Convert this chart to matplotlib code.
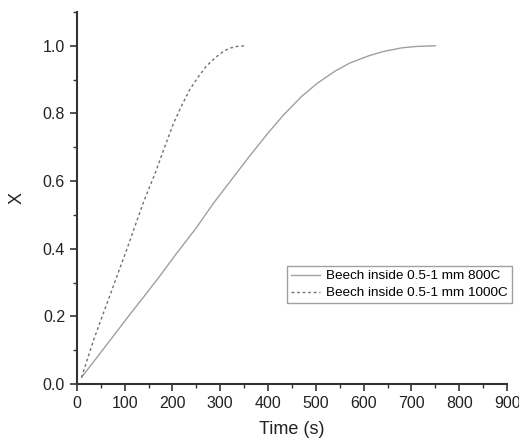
import numpy as np
import matplotlib.pyplot as plt
from matplotlib.ticker import MultipleLocator

plt.rcParams['font.family'] = ['Liberation Sans', 'DejaVu Sans']

# valores
t_800 = [10, 40, 70, 105, 140, 175, 209, 250, 286, 325, 362, 400, 432, 470, 502, 540, 571, 610, 641, 680, 710, 750]
x_800 = [0.02, 0.075, 0.13, 0.195, 0.258, 0.322, 0.387, 0.462, 0.535, 0.607, 0.675, 0.742, 0.795, 0.850, 0.888, 0.925, 0.949, 0.970, 0.983, 0.994, 0.998, 1.0]

t_1000 = [10, 35, 70, 105, 140, 163, 181, 202, 220, 236, 254, 271, 290, 306, 320, 335, 352]
x_1000 = [0.02, 0.13, 0.265, 0.40, 0.54, 0.62, 0.69, 0.77, 0.825, 0.87, 0.908, 0.94, 0.965, 0.983, 0.993, 0.998, 1.0]

fig = plt.figure(figsize=(5.19, 4.43), dpi=100)
ax = fig.add_axes([0.148, 0.133, 0.829, 0.84])

ax.plot(t_800, x_800, color='#a0a0a0', lw=1.0, label='Beech inside 0.5-1 mm 800C')
ax.plot(t_1000, x_1000, color='#707070', lw=1.0, ls=(0, (2, 2)), label='Beech inside 0.5-1 mm 1000C')

ax.set_xlim(0, 900)
ax.set_ylim(0, 1.1)
ax.xaxis.set_major_locator(MultipleLocator(100))
ax.xaxis.set_minor_locator(MultipleLocator(50))
ax.yaxis.set_minor_locator(MultipleLocator(0.1))
ax.set_yticks(np.arange(0, 1.01, 0.2))
ax.set_yticklabels(['0.0', '0.2', '0.4', '0.6', '0.8', '1.0'])

for s in ['top', 'right']:
    ax.spines[s].set_visible(False)
for s in ['left', 'bottom']:
    ax.spines[s].set_color('#333333')
    ax.spines[s].set_linewidth(1.5)

ax.tick_params(which='major', length=5, width=1.2, color='#333333', labelsize=11.5, labelcolor='#222222')
ax.tick_params(which='minor', length=3, width=1.0, color='#333333')

ax.set_xlabel('Time (s)', fontsize=13, color='#222222', labelpad=7)
ax.set_ylabel('X', fontsize=13, color='#222222', labelpad=12)

leg = ax.legend(loc='upper left', bbox_to_anchor=(0.488, 0.318), fontsize=9.7,
                frameon=True, fancybox=False, handlelength=2.2, borderpad=0.3,
                labelspacing=0.35, handletextpad=0.4, borderaxespad=0)
leg.get_frame().set_edgecolor('#888888')
leg.get_frame().set_linewidth(1.0)

plt.savefig('out.png', dpi=100)
